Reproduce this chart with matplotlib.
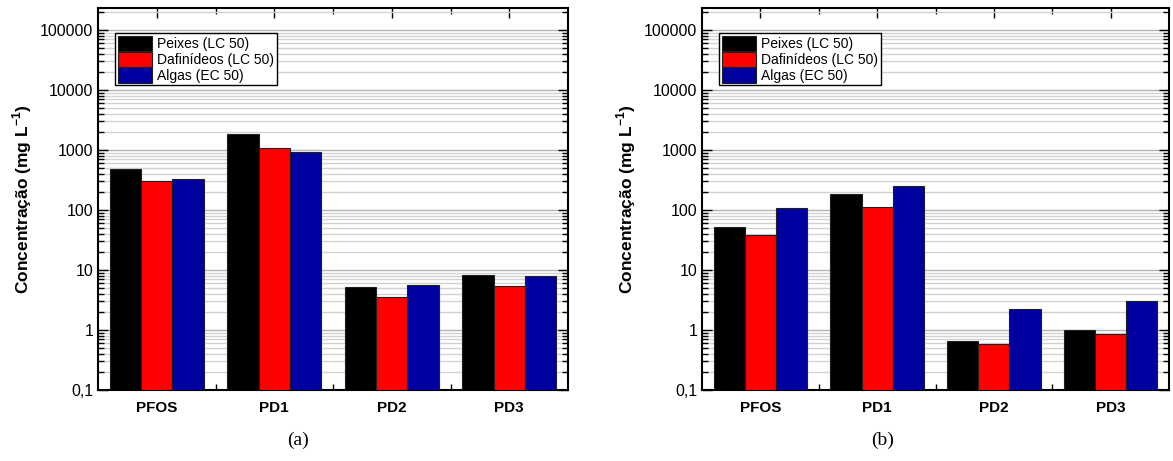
import matplotlib
matplotlib.use("Agg")
import matplotlib.pyplot as plt
import numpy as np
from matplotlib.ticker import FixedLocator, FuncFormatter, LogLocator, NullFormatter

plt.rcParams["font.family"] = ["Liberation Sans", "DejaVu Sans"]
plt.rcParams["mathtext.fontset"] = "custom"
plt.rcParams["mathtext.rm"] = "Liberation Sans"
plt.rcParams["mathtext.bf"] = "Liberation Sans:bold"

compounds = ["PFOS", "PD1", "PD2", "PD3"]
series_names = ["Peixes (LC 50)", "Dafinídeos (LC 50)", "Algas (EC 50)"]
series_colors = ["#000000", "#ff0000", "#0000a0"]

# (a) toxicity values, mg/L
peixes_a = [480, 1850, 5.3, 8.4]
dafnideos_a = [300, 1070, 3.5, 5.5]
algas_a = [335, 910, 5.7, 8.0]

# (b) toxicity values, mg/L
peixes_b = [52, 183, 0.66, 1.0]
dafnideos_b = [38, 114, 0.58, 0.85]
algas_b = [107, 251, 2.2, 3.0]

y_ticks = [0.1, 1, 10, 100, 1000, 10000, 100000]


def fmt_tick(v, pos):
    if v < 1:
        return "{:g}".format(v).replace(".", ",")
    return "{:d}".format(int(round(v)))


def toxicity_panel(ax, values):
    x = np.arange(1, len(compounds) + 1)
    width = 0.8 / 3
    for i, (vals, name, color) in enumerate(zip(values, series_names, series_colors)):
        ax.bar(
            x + (i - 1) * width,
            vals,
            width=width,
            color=color,
            edgecolor="#202020",
            linewidth=0.8,
            label=name,
            zorder=3,
        )

    ax.set_yscale("log")
    ax.set_ylim(0.1, 2.33e5)
    ax.set_xlim(0.5, len(compounds) + 0.5)

    ax.yaxis.set_major_locator(FixedLocator(y_ticks))
    ax.yaxis.set_major_formatter(FuncFormatter(fmt_tick))
    ax.yaxis.set_minor_locator(LogLocator(base=10, subs=np.arange(2, 10)))
    ax.yaxis.set_minor_formatter(NullFormatter())

    ax.set_xticks(x)
    ax.set_xticklabels(compounds, fontweight="bold", fontsize=11)
    ax.set_xticks(np.arange(1.5, len(compounds)), minor=True)

    ax.grid(True, which="major", axis="y", color="#b4b4b4", linewidth=1.0, zorder=0)
    ax.grid(True, which="minor", axis="y", color="#d2d2d2", linewidth=1.0, zorder=0)
    ax.set_axisbelow(True)

    ax.tick_params(which="both", direction="in", top=True, right=True, width=1.0)
    ax.tick_params(which="major", length=7)
    ax.tick_params(which="minor", length=4)
    ax.tick_params(axis="y", labelsize=11.5)
    ax.tick_params(axis="x", pad=8)
    for spine in ax.spines.values():
        spine.set_linewidth(1.5)

    ax.set_ylabel(r"Concentração (mg L$^{\mathbf{-1}}$)", fontweight="bold", fontsize=12.5)

    leg = ax.legend(
        loc="upper left",
        bbox_to_anchor=(0.036, 0.935),
        borderaxespad=0,
        fontsize=10,
        fancybox=False,
        edgecolor="black",
        framealpha=1,
        handlelength=2.5,
        handleheight=1.3,
        labelspacing=0.05,
        borderpad=0.2,
        handletextpad=0.35,
    )
    leg.get_frame().set_linewidth(1.0)


fig = plt.figure(figsize=(11.73, 4.61), dpi=100)
ax_a = fig.add_axes([98 / 1173, 1 - 390 / 461, 470 / 1173, 382 / 461])
ax_b = fig.add_axes([702 / 1173, 1 - 390 / 461, 467 / 1173, 382 / 461])

toxicity_panel(ax_a, [peixes_a, dafnideos_a, algas_a])
toxicity_panel(ax_b, [peixes_b, dafnideos_b, algas_b])

# sub-figure captions under each panel
serif = ["Liberation Serif", "DejaVu Serif"]
fig.text(298 / 1173, 1 - 440 / 461, "(a)", ha="center", va="center", fontsize=14, family=serif)
fig.text(883 / 1173, 1 - 440 / 461, "(b)", ha="center", va="center", fontsize=14, family=serif)

fig.savefig("out.png", dpi=100, facecolor="white")
